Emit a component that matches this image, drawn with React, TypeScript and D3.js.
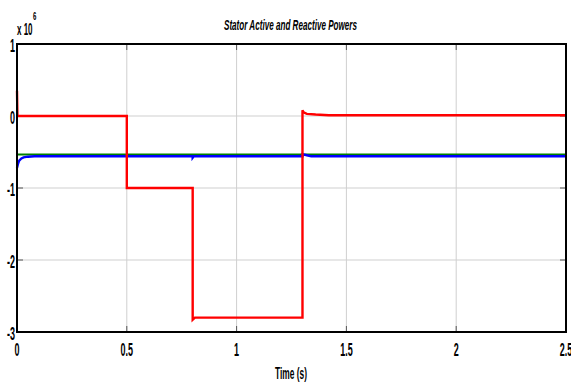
import React from "react";
import * as d3 from "d3";

const W = 571, H = 385;
const xTicks = [0, 0.5, 1, 1.5, 2, 2.5];
const xTickLabels = ["0", "0.5", "1", "1.5", "2", "2.5"];
const yTicks = [1, 0, -1, -2, -3];
const yTickLabels = ["1", "0", "-1", "-2", "-3"];

// Reactive power (red), values in 1e6
const redT = [0, 0.002, 0.5, 0.5, 0.8, 0.8, 0.81, 1.3, 1.3, 1.305, 1.32, 1.36, 1.42, 2.5];
const redV = [0.35, 0.0, 0.0, -1.0, -1.0, -2.83, -2.8, -2.8, 0.08, 0.05, 0.03, 0.02, 0.01, 0.01];
// Active power (blue)
const blueT = [0, 0.005, 0.01, 0.02, 0.03, 0.05, 0.08, 0.8, 0.8, 0.805, 1.3, 1.3, 1.32, 1.34, 2.5];
const blueV = [-0.72, -0.66, -0.62, -0.59, -0.575, -0.565, -0.56, -0.56, -0.58, -0.56, -0.56, -0.53, -0.545, -0.56, -0.56];
// Reference (green)
const greenT = [0, 2.5];
const greenV = [-0.535, -0.535];

const FONT = "'Liberation Sans', Arial, sans-serif";

export default function App() {
  const left = 17, right = 566, top = 44, bottom = 332;
  const x = d3.scaleLinear().domain([0, 2.5]).range([left, right]);
  const y = d3.scaleLinear().domain([-3, 1]).range([bottom, top]);
  const line = d3.line<[number, number]>().x(d => x(d[0])).y(d => y(d[1]));
  const mk = (t: number[], v: number[]) => t.map((tt, i) => [tt, v[i]] as [number, number]);

  return (
    <svg width={W} height={H} style={{ position: "absolute", left: 0, top: 0, background: "#fff" }}>
      <rect x={0} y={0} width={W} height={H} fill="#fff" />
      {/* grid */}
      {xTicks.slice(1, -1).map(t => (
        <line key={"gx" + t} x1={x(t)} x2={x(t)} y1={top} y2={bottom} stroke="#cfcfcf" strokeWidth={1} />
      ))}
      {yTicks.slice(1, -1).map(t => (
        <line key={"gy" + t} x1={left} x2={right} y1={y(t)} y2={y(t)} stroke="#cfcfcf" strokeWidth={1} />
      ))}
      {/* tick marks */}
      {xTicks.map(t => (
        <g key={"tx" + t}>
          <line x1={x(t)} x2={x(t)} y1={bottom} y2={bottom - 6} stroke="#555" strokeWidth={1} />
          <line x1={x(t)} x2={x(t)} y1={top} y2={top + 6} stroke="#555" strokeWidth={1} />
        </g>
      ))}
      {yTicks.map(t => (
        <g key={"ty" + t}>
          <line x1={left} x2={left + 6} y1={y(t)} y2={y(t)} stroke="#555" strokeWidth={1} />
          <line x1={right} x2={right - 6} y1={y(t)} y2={y(t)} stroke="#555" strokeWidth={1} />
        </g>
      ))}
      {/* data */}
      <path d={line(mk(greenT, greenV)) || ""} fill="none" stroke="#008000" strokeWidth={2} />
      <path d={line(mk(blueT, blueV)) || ""} fill="none" stroke="#0000ff" strokeWidth={2.4} />
      <path d={line(mk(redT, redV)) || ""} fill="none" stroke="#ff0000" strokeWidth={2.4} />
      {/* frame */}
      <rect x={left} y={top} width={right - left} height={bottom - top} fill="none" stroke="#000" strokeWidth={2} />
      {/* tick labels */}
      {xTicks.map((t, i) => (
        <text key={"lx" + t} transform={`translate(${x(t)},356) scale(0.5,1)`} textAnchor="middle" fontFamily={FONT} fontSize={18} fontWeight="bold" fill="#000">
          {xTickLabels[i]}
        </text>
      ))}
      {yTicks.map((t, i) => (
        <text key={"ly" + t} transform={`translate(15,${y(t) + 8}) scale(0.5,1)`} textAnchor="end" fontFamily={FONT} fontSize={18} fontWeight="bold" fill="#000">
          {yTickLabels[i]}
        </text>
      ))}
      <text transform="translate(17,35) scale(0.5,1)" fontFamily={FONT} fontSize={16} fontWeight="bold" fill="#000">x 10</text>
      <text transform="translate(33,20) scale(0.55,1)" fontFamily={FONT} fontSize={11} fontWeight="bold" fill="#000">6</text>
      <text x={224} y={30} textLength={133} lengthAdjust="spacingAndGlyphs" fontFamily={FONT} fontSize={15} fontWeight="bold" fontStyle="italic" fill="#000">
        Stator Active and Reactive Powers
      </text>
      <text x={275} y={379} textLength={32} lengthAdjust="spacingAndGlyphs" fontFamily={FONT} fontSize={17} fontWeight="bold" fill="#000">
        Time (s)
      </text>
    </svg>
  );
}
